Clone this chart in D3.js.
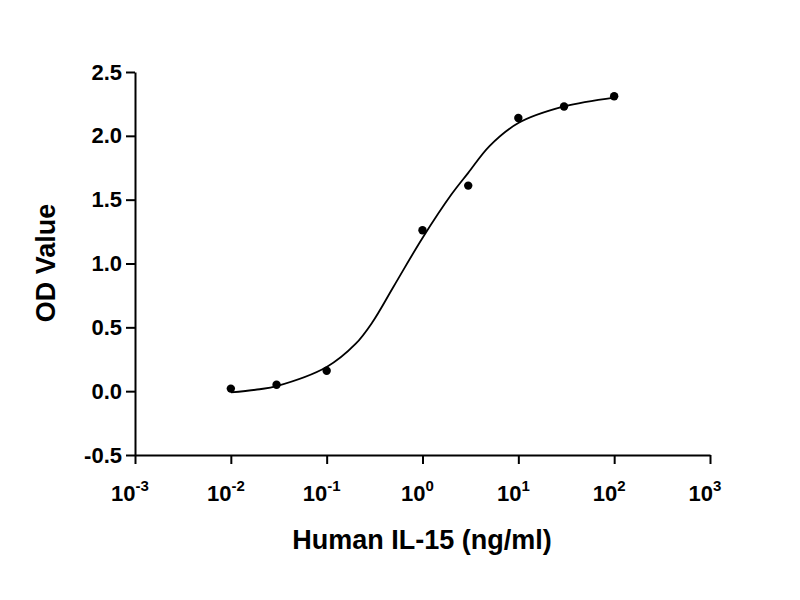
<!DOCTYPE html>
<html><head><meta charset="utf-8">
<script src="https://cdn.jsdelivr.net/npm/d3@7"></script>
<style>body{margin:0;background:#fff}text{font-family:"Liberation Sans",Arial,sans-serif;font-weight:bold}</style>
</head><body><svg id="chart" width="800" height="600"></svg>
<script>
var conc = [0.01, 0.03, 0.1, 1, 3, 10, 30, 100];
var od = [0.02, 0.05, 0.16, 1.26, 1.61, 2.14, 2.23, 2.31];
var fitX = [0.01, 0.02, 0.03, 0.1, 0.2, 0.3, 0.5, 1, 2, 3, 5, 10, 30, 100];
var fitY = [-0.01, 0.015, 0.04, 0.19, 0.37, 0.54, 0.82, 1.2, 1.54, 1.71, 1.92, 2.1, 2.23, 2.30];
var xExps = [-3, -2, -1, 0, 1, 2, 3];
var yTicks = [-0.5, 0.0, 0.5, 1.0, 1.5, 2.0, 2.5];

var svg = d3.select("#chart");
var x = d3.scaleLog().domain([1e-3, 1e3]).range([135, 710]);
var y = d3.scaleLinear().domain([-0.5, 2.5]).range([455, 72]);

// axes
svg.append("g").attr("transform", "translate(0,455)")
    .call(d3.axisBottom(x).tickValues(xExps.map(function(e) { return Math.pow(10, e); }))
        .tickFormat("").tickSize(9).tickSizeOuter(0));
var yAxis = svg.append("g").attr("transform", "translate(135,0)")
    .call(d3.axisLeft(y).tickValues(yTicks)
        .tickFormat(function(d) { return d < 0 ? "-" + Math.abs(d).toFixed(1) : d.toFixed(1); })
        .tickSize(9).tickSizeOuter(0));
svg.selectAll(".domain, .tick line").attr("stroke", "#000").attr("stroke-width", 2);
yAxis.selectAll("text").attr("font-size", 22).attr("fill", "#000").attr("x", -13);

var xl = svg.append("g").selectAll("text").data(xExps).enter().append("text")
    .attr("x", function(d) { return x(Math.pow(10, d)) - 5; })
    .attr("y", 501).attr("text-anchor", "middle").attr("font-size", 22);
xl.append("tspan").text("10");
xl.append("tspan").attr("dy", -10).attr("font-size", 15).text(function(d) { return d; });

// fitted curve
var line = d3.line()
    .x(function(d) { return x(d[0]); })
    .y(function(d) { return y(d[1]); })
    .curve(d3.curveCatmullRom.alpha(0.5));
svg.append("path").attr("d", line(d3.zip(fitX, fitY)))
    .attr("fill", "none").attr("stroke", "#000").attr("stroke-width", 1.8);

svg.selectAll("circle").data(d3.zip(conc, od)).enter().append("circle")
    .attr("cx", function(d) { return x(d[0]); })
    .attr("cy", function(d) { return y(d[1]); })
    .attr("r", 4.2).attr("fill", "#000");

svg.append("text").attr("x", 422).attr("y", 549).attr("text-anchor", "middle")
    .attr("font-size", 27).text("Human IL-15 (ng/ml)");
svg.append("text").attr("transform", "translate(55,263) rotate(-90)").attr("text-anchor", "middle")
    .attr("font-size", 27).text("OD Value");
</script></body></html>
